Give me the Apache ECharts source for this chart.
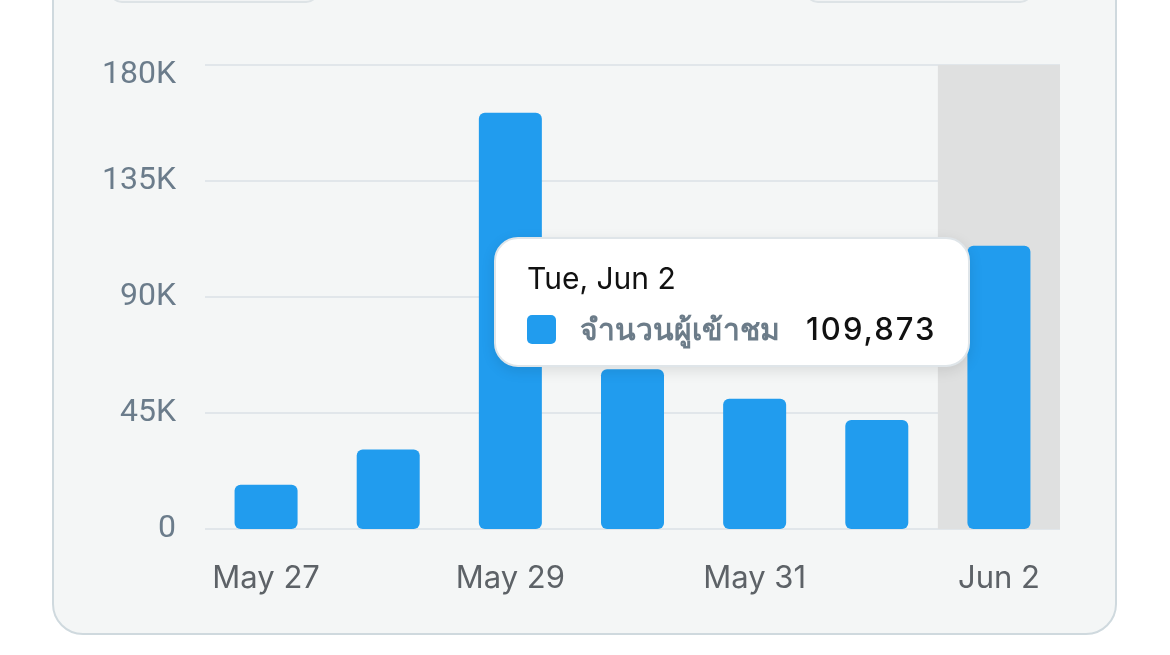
<!DOCTYPE html>
<html>
<head>
<meta charset="utf-8">
<script src="https://cdn.jsdelivr.net/npm/echarts@6/dist/echarts.min.js"></script>
<style>
  html, body { margin: 0; padding: 0; background: #ffffff; }
  #chart { width: 1170px; height: 655px; }
</style>
</head>
<body>
<div id="chart"></div>
<script>
const categories = ['May 27', 'May 28', 'May 29', 'May 30', 'May 31', 'Jun 1', 'Jun 2'];
const fullDates = ['Wed, May 27', 'Thu, May 28', 'Fri, May 29', 'Sat, May 30', 'Sun, May 31', 'Mon, Jun 1', 'Tue, Jun 2'];
const visitors = [17200, 30800, 161500, 62000, 50500, 42300, 109873];
const seriesName = 'จำนวนผู้เข้าชม';
const yTicks = { min: 0, max: 180000, interval: 45000 };

const chart = echarts.init(document.getElementById('chart'), null, { renderer: 'canvas' });
const font = 'Inter, "Noto Sans", "DejaVu Sans", sans-serif';
const numFont = 'Roboto, Inter, sans-serif';

chart.setOption({
  animation: false,
  textStyle: { fontFamily: font },
  graphic: [
    { type: 'rect', z: -10, silent: true,
      shape: { x: 53, y: -60, width: 1063, height: 694, r: 30 },
      style: { fill: '#f4f6f6', stroke: '#cfd9de', lineWidth: 2 } },
    { type: 'rect', z: -9, silent: true,
      shape: { x: 110, y: -40, width: 208, height: 42, r: 12 },
      style: { fill: '#f1f3f4', stroke: '#dde3e6', lineWidth: 2 } },
    { type: 'rect', z: -9, silent: true,
      shape: { x: 806, y: -40, width: 226, height: 42, r: 12 },
      style: { fill: '#f1f3f4', stroke: '#dde3e6', lineWidth: 2 } }
  ],
  grid: { left: 205, right: 110, top: 65, bottom: 126, containLabel: false },
  tooltip: {
    trigger: 'axis',
    triggerOn: 'none',
    alwaysShowContent: true,
    transitionDuration: 0,
    position: [494, 237],
    padding: 0,
    backgroundColor: '#ffffff',
    borderColor: '#dfe5e9',
    borderWidth: 2,
    extraCssText: 'border-radius:24px; box-shadow: 0 4px 14px rgba(0,0,0,0.10);',
    axisPointer: {
      type: 'shadow',
      z: 1,
      shadowStyle: { color: '#dfe0e0', opacity: 1 }
    },
    formatter: function (params) {
      const p = params[0];
      const v = p.value.toLocaleString('en-US');
      return '<div style="width:472px;height:126px;padding-left:31px;box-sizing:border-box;font-family:' + font.replace(/"/g, "'") + ';">' +
        '<div style="padding-top:20px;font-size:30px;color:#111;line-height:38px;">' + fullDates[p.dataIndex] + '</div>' +
        '<div style="margin-top:13px;display:flex;align-items:center;line-height:38px;">' +
          '<span style="display:inline-block;width:29px;height:29px;border-radius:5px;background:#219cee;"></span>' +
          '<span style="margin-left:24px;font-size:30px;font-weight:600;color:#6c7c89;">' + p.seriesName + '</span>' +
          '<span style="margin-left:26px;font-size:31px;font-weight:500;color:#111;letter-spacing:2px;">' + v + '</span>' +
        '</div></div>';
    }
  },
  xAxis: {
    type: 'category',
    data: categories,
    axisLine: { show: false },
    axisTick: { show: false },
    axisLabel: { interval: 1, fontSize: 31, color: '#5d6267', margin: 34, fontFamily: font }
  },
  yAxis: {
    type: 'value',
    min: yTicks.min, max: yTicks.max, interval: yTicks.interval,
    axisLine: { show: false },
    axisTick: { show: false },
    splitLine: { lineStyle: { color: '#e1e6ea', width: 2 } },
    axisLabel: {
      fontSize: 32, color: '#6b7c8b', margin: 29, fontFamily: numFont,
      formatter: function (v) {
        if (v === 0) return '0';
        const s = (v / 1000) + 'K';
        return v === yTicks.max ? '{top|' + s + '}' : s;
      },
      rich: {
        top: { fontSize: 32, color: '#6b7c8b', fontFamily: numFont, padding: [20, 0, 0, 0] }
      }
    }
  },
  series: [{
    name: seriesName,
    type: 'bar',
    z: 100,
    data: visitors,
    barWidth: 63,
    itemStyle: { color: '#219cee', borderRadius: 6 },
    emphasis: { disabled: true }
  }]
});

chart.dispatchAction({ type: 'showTip', seriesIndex: 0, dataIndex: 6 });
</script>
</body>
</html>
